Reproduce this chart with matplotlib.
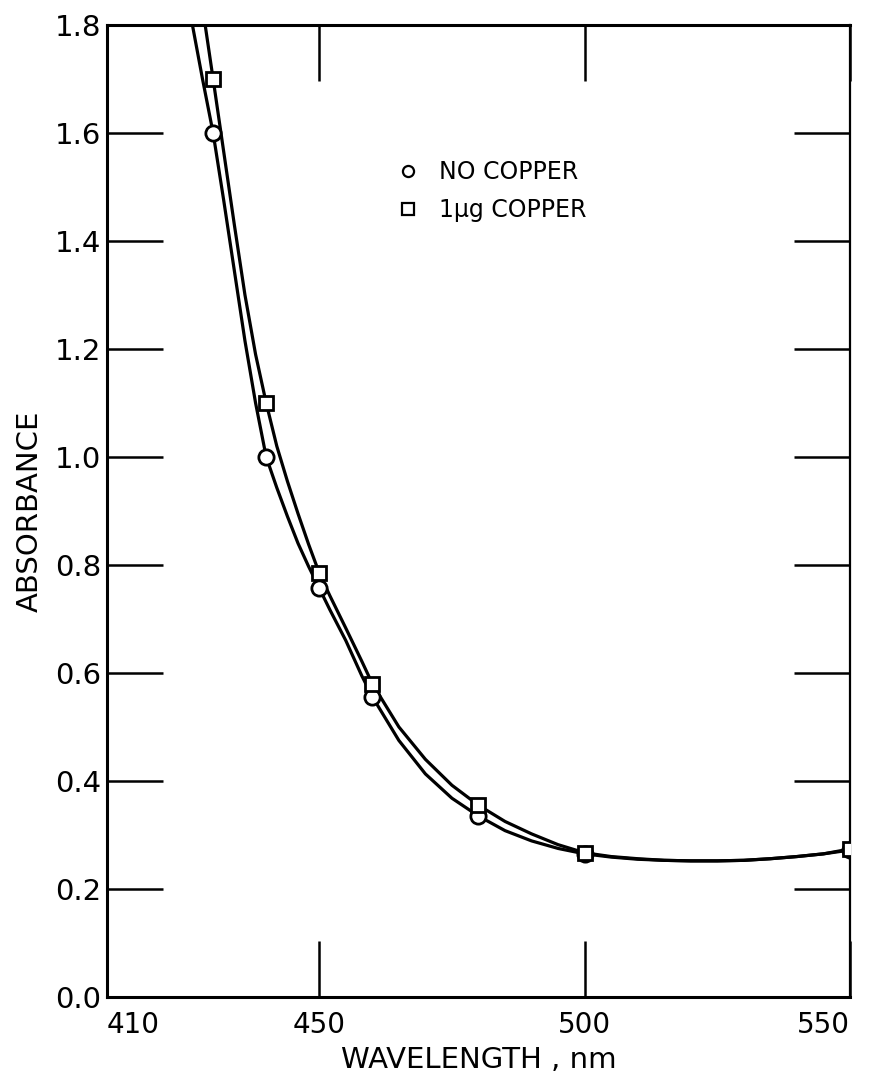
import matplotlib
matplotlib.use('Agg')
import matplotlib.pyplot as plt
from matplotlib.lines import Line2D

# measured points
wl_pts = [430, 440, 450, 460, 480, 500, 550]
no_cu = [1.60, 1.00, 0.757, 0.556, 0.335, 0.265, 0.272]
one_ug = [1.70, 1.10, 0.785, 0.58, 0.355, 0.267, 0.274]

# hand drawn curves
wl_curve_a = [426.1, 428, 430, 432, 434, 436, 438, 440, 442, 444, 446, 448, 450,
              452, 455, 458, 460, 465, 470, 475, 480, 485, 490, 495, 500, 505,
              510, 515, 520, 525, 530, 535, 540, 545, 550]
abs_curve_a = [1.80, 1.70, 1.60, 1.475, 1.345, 1.215, 1.10, 1.00, 0.943, 0.89,
               0.84, 0.797, 0.757, 0.717, 0.66, 0.595, 0.556, 0.475, 0.413,
               0.368, 0.335, 0.308, 0.289, 0.275, 0.265, 0.259, 0.255, 0.253,
               0.252, 0.252, 0.253, 0.256, 0.260, 0.265, 0.272]
wl_curve_b = [428.5, 430, 432, 434, 436, 438, 440, 442, 444, 446, 448, 450, 452,
              455, 458, 460, 465, 470, 475, 480, 485, 490, 495, 500, 505, 510,
              515, 520, 525, 530, 535, 540, 545, 550]
abs_curve_b = [1.80, 1.70, 1.565, 1.43, 1.30, 1.19, 1.10, 1.02, 0.955, 0.895,
               0.838, 0.785, 0.743, 0.683, 0.622, 0.58, 0.50, 0.44, 0.392, 0.355,
               0.325, 0.302, 0.282, 0.267, 0.260, 0.256, 0.253, 0.252, 0.252,
               0.253, 0.256, 0.260, 0.265, 0.274]

xticks = [410, 450, 500, 550]
yticks = [0.0, 0.2, 0.4, 0.6, 0.8, 1.0, 1.2, 1.4, 1.6, 1.8]
ytick_labels = ['0.0', '0.2', '0.4', '0.6', '0.8', '1.0', '1.2', '1.4', '1.6', '1.8']

fig = plt.figure(figsize=(8.71, 10.84), dpi=100)
ax = fig.add_axes([0.1228, 0.0803, 0.8531, 0.8967])

ax.plot(wl_curve_a, abs_curve_a, color='black', lw=2.3, zorder=2)
ax.plot(wl_curve_b, abs_curve_b, color='black', lw=2.3, zorder=2)
ax.plot(wl_pts, no_cu, 'o', ms=11, mfc='white', mec='black', mew=2.0, zorder=3)
ax.plot(wl_pts, one_ug, 's', ms=10, mfc='white', mec='black', mew=2.0, zorder=4)

ax.set_xlim(410, 550)
ax.set_ylim(0, 1.8)
ax.set_xticks(xticks)
ax.set_xticklabels([str(t) for t in xticks], fontsize=20)
xl = ax.get_xticklabels()
xl[0].set_horizontalalignment('left')
xl[-1].set_horizontalalignment('right')
ax.set_yticks(yticks)
ax.set_yticklabels(ytick_labels, fontsize=21)

ax.tick_params(axis='both', direction='in', length=40, width=1.8,
               top=True, right=True)
ax.tick_params(axis='x', pad=10)
ax.tick_params(axis='y', pad=4)

for side in ['left', 'bottom', 'top']:
    ax.spines[side].set_linewidth(2.2)
ax.spines['right'].set_linewidth(1.6)

ax.set_xlabel('WAVELENGTH , nm', fontsize=21, labelpad=5)
ax.set_ylabel('ABSORBANCE', fontsize=21, labelpad=8)

handles = [
    Line2D([], [], ls='none', marker='o', ms=8, mfc='white', mec='black', mew=1.6),
    Line2D([], [], ls='none', marker='s', ms=8, mfc='white', mec='black', mew=1.6),
]
ax.legend(handles, ['NO COPPER', '1μg COPPER'], loc='upper left',
          bbox_to_anchor=(0.377, 0.873), frameon=False, fontsize=17,
          borderpad=0, handlelength=0.8, handletextpad=0.9, labelspacing=0.6)

fig.savefig('out.png', dpi=100)
